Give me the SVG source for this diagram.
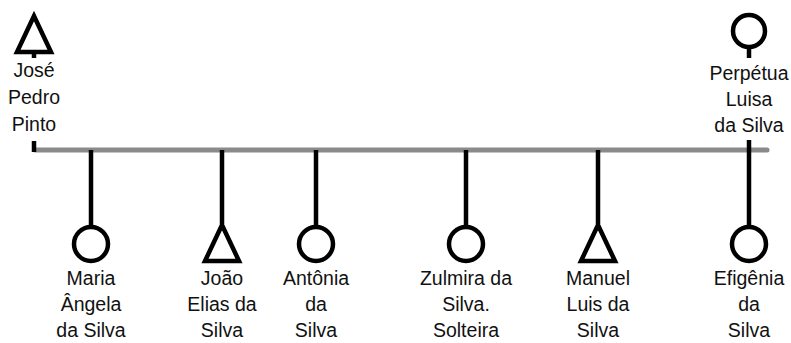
<svg xmlns="http://www.w3.org/2000/svg" width="791" height="343" viewBox="0 0 791 343">
<style>
.sym{fill:none;stroke:#000;stroke-width:4.5;stroke-linejoin:miter}
.ln{fill:none;stroke:#000;stroke-width:4.5}
.bar{fill:none;stroke:#8a8a8a;stroke-width:5;stroke-linecap:round}
text{font-family:"Liberation Sans",Arial,sans-serif;font-size:19.5px;fill:#111;text-anchor:middle}
</style>
<rect width="791" height="343" fill="#fff"/>
<g id="connectors">
<line class="bar" x1="35" y1="150" x2="767" y2="150"/>
<line class="ln" x1="34" y1="141" x2="34" y2="152"/>
<line class="ln" x1="34" y1="52" x2="34" y2="58"/>
<line class="ln" x1="749" y1="47" x2="749" y2="58"/>
<line class="ln" x1="749" y1="140" x2="749" y2="228"/>
<line class="ln" x1="91" y1="150" x2="91" y2="228"/>
<line class="ln" x1="222" y1="150" x2="222" y2="224"/>
<line class="ln" x1="316" y1="150" x2="316" y2="228"/>
<line class="ln" x1="466" y1="150" x2="466" y2="228"/>
<line class="ln" x1="598" y1="150" x2="598" y2="224"/>
</g>
<g id="jose">
<polygon class="sym" points="34,16 17,52 51,52"/>
<text x="34" y="77">José</text>
<text x="34" y="104">Pedro</text>
<text x="34" y="131">Pinto</text>
</g>
<g id="perpetua">
<circle class="sym" cx="749" cy="31" r="16"/>
<text x="749" y="80">Perpétua</text>
<text x="749" y="106">Luisa</text>
<text x="749" y="132">da Silva</text>
</g>
<g id="maria">
<circle class="sym" cx="91" cy="244" r="17"/>
<text x="91" y="285">Maria</text>
<text x="91" y="311">Ângela</text>
<text x="91" y="337">da Silva</text>
</g>
<g id="joao">
<polygon class="sym" points="222,225 205,261 239,261"/>
<text x="222" y="285">João</text>
<text x="222" y="311">Elias da</text>
<text x="222" y="337">Silva</text>
</g>
<g id="antonia">
<circle class="sym" cx="316" cy="244" r="17"/>
<text x="316" y="285">Antônia</text>
<text x="316" y="311">da</text>
<text x="316" y="337">Silva</text>
</g>
<g id="zulmira">
<circle class="sym" cx="466" cy="244" r="17"/>
<text x="466" y="285">Zulmira da</text>
<text x="466" y="311">Silva.</text>
<text x="466" y="337">Solteira</text>
</g>
<g id="manuel">
<polygon class="sym" points="598,225 581,261 615,261"/>
<text x="598" y="285">Manuel</text>
<text x="598" y="311">Luis da</text>
<text x="598" y="337">Silva</text>
</g>
<g id="efigenia">
<circle class="sym" cx="749" cy="244" r="17"/>
<text x="749" y="285">Efigênia</text>
<text x="749" y="311">da</text>
<text x="749" y="337">Silva</text>
</g>
</svg>
